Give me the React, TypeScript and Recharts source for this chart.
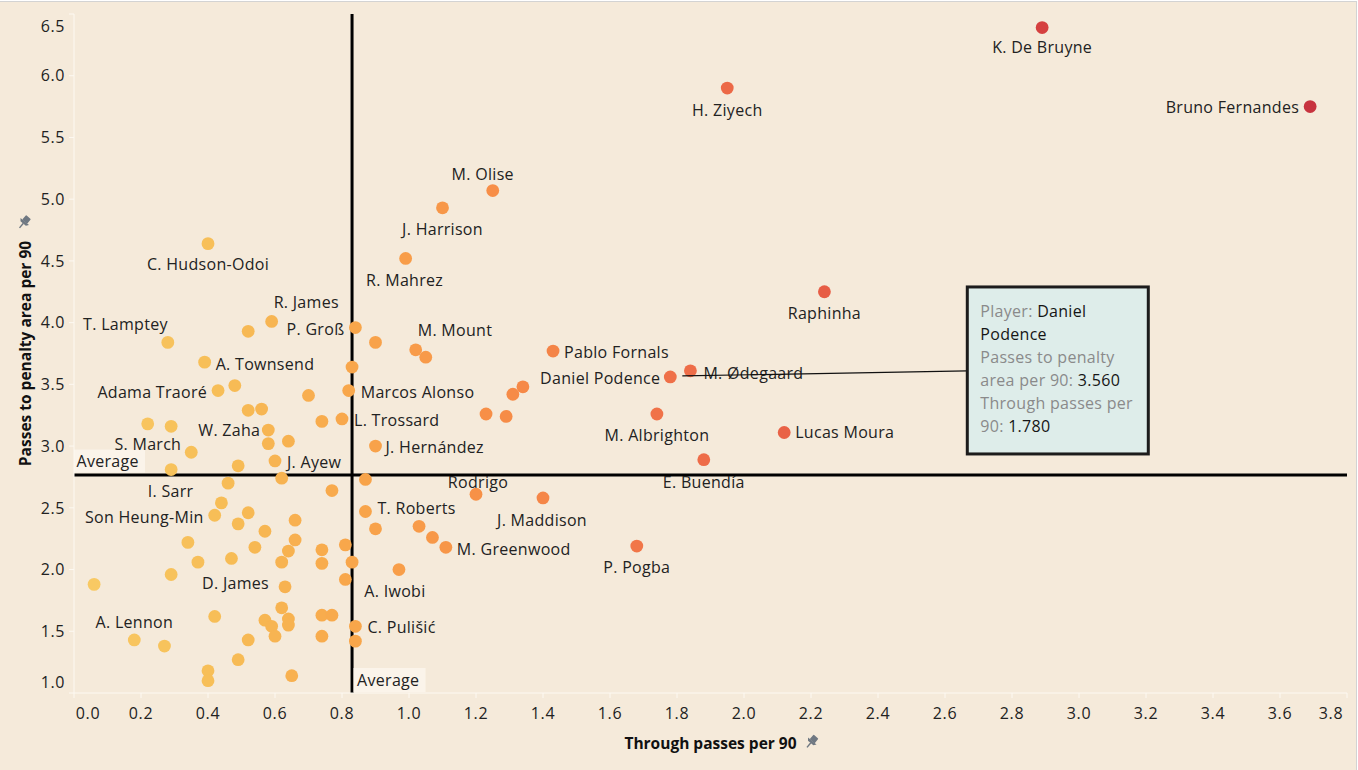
import React from 'react';
import { ScatterChart, Scatter, XAxis, YAxis, ReferenceLine, ReferenceDot } from 'recharts';

// ---------- data ----------
const players = [
  'K. De Bruyne', 'Bruno Fernandes', 'H. Ziyech', 'M. Olise', 'J. Harrison', 'C. Hudson-Odoi', 'R. Mahrez',
  'Raphinha', 'R. James', 'P. Groß', 'T. Lamptey', 'M. Mount', 'A. Townsend', 'Pablo Fornals', 'Daniel Podence',
  'M. Ødegaard', 'Adama Traoré', 'Marcos Alonso', 'L. Trossard', 'W. Zaha', 'M. Albrighton', 'Lucas Moura',
  'S. March', 'J. Hernández', 'J. Ayew', 'I. Sarr', 'Rodrigo', 'E. Buendía', 'T. Roberts', 'J. Maddison',
  'Son Heung-Min', 'M. Greenwood', 'P. Pogba', 'D. James', 'A. Iwobi', 'A. Lennon', 'C. Pulišić',
];
const playerThroughPasses = [
  2.89, 3.69, 1.95, 1.25, 1.10, 0.40, 0.99, 2.24, 0.59, 0.84, 0.28, 1.02, 0.39, 1.43, 1.78, 1.84, 0.43, 0.82,
  0.80, 0.58, 1.74, 2.12, 0.35, 0.90, 0.60, 0.44, 1.20, 1.88, 0.87, 1.40, 0.42, 1.11, 1.68, 0.63, 0.81, 0.18, 0.84,
];
const playerPenaltyPasses = [
  6.39, 5.75, 5.90, 5.07, 4.93, 4.64, 4.52, 4.25, 4.01, 3.96, 3.84, 3.78, 3.68, 3.77, 3.56, 3.61, 3.45, 3.45,
  3.22, 3.13, 3.26, 3.11, 2.95, 3.00, 2.88, 2.54, 2.61, 2.89, 2.47, 2.58, 2.44, 2.18, 2.19, 1.86, 1.92, 1.43, 1.54,
];
// players without a visible label
const otherThroughPasses = [
  0.52, 0.90, 1.05, 0.83, 0.48, 0.70, 0.52, 0.56, 0.22, 0.29, 0.74, 0.58, 0.64, 0.49, 0.29, 0.62, 0.87, 0.77,
  1.34, 1.31, 1.23, 1.29, 0.46, 0.52, 0.49, 0.66, 0.57, 0.90, 1.03, 1.07, 0.34, 0.66, 0.54, 0.64, 0.74, 0.81,
  0.37, 0.47, 0.62, 0.74, 0.83, 0.97, 0.29, 0.06, 0.62, 0.42, 0.74, 0.77, 0.57, 0.59, 0.64, 0.64, 0.60, 0.74,
  0.52, 0.27, 0.84, 0.49, 0.40, 0.40, 0.65,
];
const otherPenaltyPasses = [
  3.93, 3.84, 3.72, 3.64, 3.49, 3.41, 3.29, 3.30, 3.18, 3.16, 3.20, 3.02, 3.04, 2.84, 2.81, 2.74, 2.73, 2.64,
  3.48, 3.42, 3.26, 3.24, 2.70, 2.46, 2.37, 2.40, 2.31, 2.33, 2.35, 2.26, 2.22, 2.24, 2.18, 2.15, 2.16, 2.20,
  2.06, 2.09, 2.06, 2.05, 2.06, 2.00, 1.96, 1.88, 1.69, 1.62, 1.63, 1.63, 1.59, 1.54, 1.60, 1.55, 1.46, 1.46,
  1.43, 1.38, 1.42, 1.27, 1.18, 1.10, 1.14,
];
const xTicks = [0, 0.2, 0.4, 0.6, 0.8, 1.0, 1.2, 1.4, 1.6, 1.8, 2.0, 2.2, 2.4, 2.6, 2.8, 3.0, 3.2, 3.4, 3.6, 3.8];
const yTicks = [1.0, 1.5, 2.0, 2.5, 3.0, 3.5, 4.0, 4.5, 5.0, 5.5, 6.0, 6.5];
const averageThroughPasses = 0.83;
const averagePenaltyPasses = 2.765;
const highlightedPlayer = 'Daniel Podence';
const xTitle = 'Through passes per 90';
const yTitle = 'Passes to penalty area per 90';

// ---------- derived tables ----------
const labeledPoints = players.map((name, i) => ({ name, x: playerThroughPasses[i], y: playerPenaltyPasses[i] }));
const otherPoints = otherThroughPasses.map((x, i) => ({ name: '', x, y: otherPenaltyPasses[i] }));
const allPoints = [...otherPoints, ...labeledPoints];
const highlighted = labeledPoints.find((p) => p.name === highlightedPlayer)!;

// ---------- styles ----------
const BG = '#f5eada';
const FONT = "'Open Sans', 'Noto Sans', sans-serif";
const TEXT = '#222222';

// label placement: [dx, dy (to text centre), anchor]
const labelPlacement: Record<string, [number, number, 'start' | 'middle' | 'end']> = {
  'K. De Bruyne': [0, 20, 'middle'],
  'H. Ziyech': [0, 22, 'middle'],
  'Bruno Fernandes': [-11, 1, 'end'],
  'M. Olise': [-10, -16, 'middle'],
  'J. Harrison': [0, 22, 'middle'],
  'C. Hudson-Odoi': [0, 21, 'middle'],
  'R. Mahrez': [-1, 22, 'middle'],
  'R. James': [2, -19, 'start'],
  'P. Groß': [-11, 2, 'end'],
  'T. Lamptey': [0, -18, 'end'],
  'M. Mount': [2, -19, 'start'],
  'A. Townsend': [11, 2, 'start'],
  'Pablo Fornals': [11, 1, 'start'],
  'Daniel Podence': [-10, 1, 'end'],
  'M. Ødegaard': [13, 3, 'start'],
  'Raphinha': [0, 22, 'middle'],
  'Adama Traoré': [-11, 2, 'end'],
  'Marcos Alonso': [12, 2, 'start'],
  'L. Trossard': [12, 1, 'start'],
  'W. Zaha': [-8, 0, 'end'],
  'M. Albrighton': [0, 21, 'middle'],
  'Lucas Moura': [11, 0, 'start'],
  'S. March': [-10, -8, 'end'],
  'J. Hernández': [10, 1, 'start'],
  'J. Ayew': [12, 1, 'start'],
  'I. Sarr': [-28, -11, 'end'],
  'Rodrigo': [2, -12, 'middle'],
  'E. Buendía': [0, 23, 'middle'],
  'T. Roberts': [12, -3, 'start'],
  'J. Maddison': [-1, 22, 'middle'],
  'Son Heung-Min': [-11, 2, 'end'],
  'M. Greenwood': [11, 2, 'start'],
  'P. Pogba': [0, 21, 'middle'],
  'D. James': [-16, -3, 'end'],
  'A. Iwobi': [19, 12, 'start'],
  'A. Lennon': [0, -18, 'middle'],
  'C. Pulišić': [12, 1, 'start'],
};

const colorStops: [number, string][] = [
  [0, '#f8cb65'], [0.45, '#f7bd56'], [0.85, '#f8a54a'], [1.25, '#f78e47'], [1.8, '#ef6f48'],
  [2.3, '#e65a45'], [2.9, '#d5403f'], [3.7, '#c7333e'],
];
const hex = (h: string) => [1, 3, 5].map((i) => parseInt(h.slice(i, i + 2), 16));
const colorFor = (v: number) => {
  if (v <= colorStops[0][0]) return colorStops[0][1];
  for (let i = 1; i < colorStops.length; i++) {
    const [v1, c1] = colorStops[i];
    const [v0, c0] = colorStops[i - 1];
    if (v <= v1) {
      const t = (v - v0) / (v1 - v0);
      const a = hex(c0), b = hex(c1);
      const m = a.map((q, k) => Math.round(q + (b[k] - q) * t));
      return `rgb(${m[0]},${m[1]},${m[2]})`;
    }
  }
  return colorStops[colorStops.length - 1][1];
};

const renderDot = (props: any) => {
  const { cx, cy, payload } = props;
  if (cx == null || cy == null) return <g />;
  return <circle cx={cx} cy={cy} r={6.4} fill={colorFor(payload.x)} />;
};

const renderLabel = (props: any) => {
  const { cx, cy, payload } = props;
  const pl = labelPlacement[payload.name] || [10, 0, 'start'];
  return (
    <text x={cx + pl[0]} y={cy + pl[1] + 5.6} textAnchor={pl[2]} fontFamily={FONT} fontSize={16}
      letterSpacing={0.3} fill={TEXT}>
      {payload.name}
    </text>
  );
};

const renderXTick = (props: any) => {
  const { x, y, payload, index } = props;
  const shift = index === 0 ? 14 : index === xTicks.length - 1 ? -16 : 0;
  return (
    <text x={x + shift} y={y + 17} textAnchor="middle" fontFamily={FONT} fontSize={16} letterSpacing={0.6} fill={TEXT}>
      {Number(payload.value).toFixed(1)}
    </text>
  );
};

const renderYTick = (props: any) => {
  const { x, y, payload, index } = props;
  const shift = index === 0 ? -11 : index === yTicks.length - 1 ? 12 : 0;
  return (
    <text x={x} y={y + shift + 5.7} textAnchor="end" fontFamily={FONT} fontSize={16} letterSpacing={0.6} fill={TEXT}>
      {Number(payload.value).toFixed(1)}
    </text>
  );
};

const Pin = ({ x, y }: { x: number; y: number }) => (
  <g transform={`translate(${x},${y}) rotate(40)`} fill="#6f7882">
    <rect x={-3.2} y={-7} width={6.4} height={6} rx={0.8} />
    <path d="M-5.5,-1.2 L5.5,-1.2 L3.5,1.3 L-3.5,1.3 Z" />
    <rect x={-0.7} y={1} width={1.4} height={6} />
  </g>
);

const renderXTitle = (props: any) => {
  const vb = props.viewBox || { x: 74, y: 693, width: 1273, height: 77 };
  const cx = vb.x + vb.width / 2;
  return (
    <g>
      <text x={cx} y={vb.y + 55.5} textAnchor="middle" fontFamily={FONT} fontSize={15.5} fontWeight={700} fill="#111">
        {xTitle}
      </text>
      <Pin x={cx + 101} y={vb.y + 49} />
    </g>
  );
};

const renderYTitle = (props: any) => {
  const vb = props.viewBox || { x: 0, y: 14, width: 74, height: 679 };
  const cy = vb.y + vb.height / 2;
  return (
    <g>
      <text transform={`translate(${vb.x + 30.5},${cy}) rotate(-90)`} textAnchor="middle" fontFamily={FONT}
        fontSize={15.5} fontWeight={700} fill="#111">
        {yTitle}
      </text>
      <Pin x={vb.x + 24} y={cy - 131} />
    </g>
  );
};

const renderAvgH = (props: any) => {
  const vb = props.viewBox;
  return (
    <g>
      <rect x={vb.x} y={vb.y - 25.5} width={71} height={23} fill="#fbf4ea" />
      <text x={vb.x + 2.5} y={vb.y - 8} fontFamily={FONT} fontSize={16} letterSpacing={0.3} fill={TEXT}>Average</text>
    </g>
  );
};

const renderAvgV = (props: any) => {
  const vb = props.viewBox;
  const bottom = vb.y + vb.height;
  return (
    <g>
      <rect x={vb.x + 1.5} y={bottom - 25} width={72} height={24} fill="#fbf4ea" />
      <text x={vb.x + 5} y={bottom - 7.5} fontFamily={FONT} fontSize={16} letterSpacing={0.3} fill={TEXT}>Average</text>
    </g>
  );
};

const renderCallout = (props: any) => {
  const { cx, cy } = props;
  const bx = cx + 297;
  const by = cy - 90;
  const gray = '#8a8a8a';
  const dark = '#151515';
  const [first, ...rest] = highlighted.name.split(' ');
  const lines: [string, string][] = [
    ['Player: ', first],
    ['', rest.join(' ')],
    ['Passes to penalty', ''],
    ['area per 90: ', highlighted.y.toFixed(3)],
    ['Through passes per', ''],
    ['90: ', highlighted.x.toFixed(3)],
  ];
  return (
    <g>
      <line x1={cx + 12} y1={cy - 1} x2={bx} y2={cy - 6} stroke="#111" strokeWidth={1.2} />
      <rect x={bx} y={by} width={181} height={167} fill="#deedea" stroke="#1c1c1c" strokeWidth={3} />
      {lines.map(([a, b], i) => (
        <text key={i} x={bx + 13} y={by + 30 + i * 23} fontFamily={FONT} fontSize={16} letterSpacing={0.3}>
          <tspan fill={gray}>{a}</tspan>
          <tspan fill={dark}>{b}</tspan>
        </text>
      ))}
    </g>
  );
};

export default function App() {
  return (
    <div style={{ position: 'absolute', left: 0, top: 0, width: 1358, height: 770, background: '#ffffff', overflow: 'hidden' }}>
      <div style={{
        position: 'absolute', left: 0, top: 1, width: 1357, height: 769, background: BG,
        borderTop: '1px solid #d3d3d3', borderRight: '1px solid #d3d3d3', boxSizing: 'border-box',
      }} />
      <div style={{ position: 'absolute', left: 0, top: 0 }}>
        <ScatterChart width={1358} height={770} margin={{ top: 14, right: 11, bottom: 0, left: 0 }}>
          <XAxis type="number" dataKey="x" domain={[0, 3.8]} ticks={xTicks} interval={0} height={77}
            tickSize={5} tickMargin={4} axisLine={{ stroke: '#fdf9f2', strokeWidth: 1 }}
            tickLine={{ stroke: '#fdf9f2', strokeWidth: 1 }} tick={renderXTick} label={renderXTitle} />
          <YAxis type="number" dataKey="y" domain={[1, 6.5]} ticks={yTicks} interval={0} width={74}
            tickSize={5} tickMargin={4} axisLine={{ stroke: '#fdf9f2', strokeWidth: 1 }}
            tickLine={{ stroke: '#fdf9f2', strokeWidth: 1 }} tick={renderYTick} label={renderYTitle} />
          <ReferenceLine x={averageThroughPasses} stroke="#000" strokeWidth={3} label={renderAvgV} />
          <ReferenceLine y={averagePenaltyPasses} stroke="#000" strokeWidth={3} label={renderAvgH} />
          <Scatter data={allPoints} shape={renderDot} isAnimationActive={false} />
          <Scatter data={labeledPoints} shape={renderLabel} isAnimationActive={false} />
          <ReferenceDot x={highlighted.x} y={highlighted.y} r={0} ifOverflow="visible" shape={renderCallout} />
        </ScatterChart>
      </div>
    </div>
  );
}
